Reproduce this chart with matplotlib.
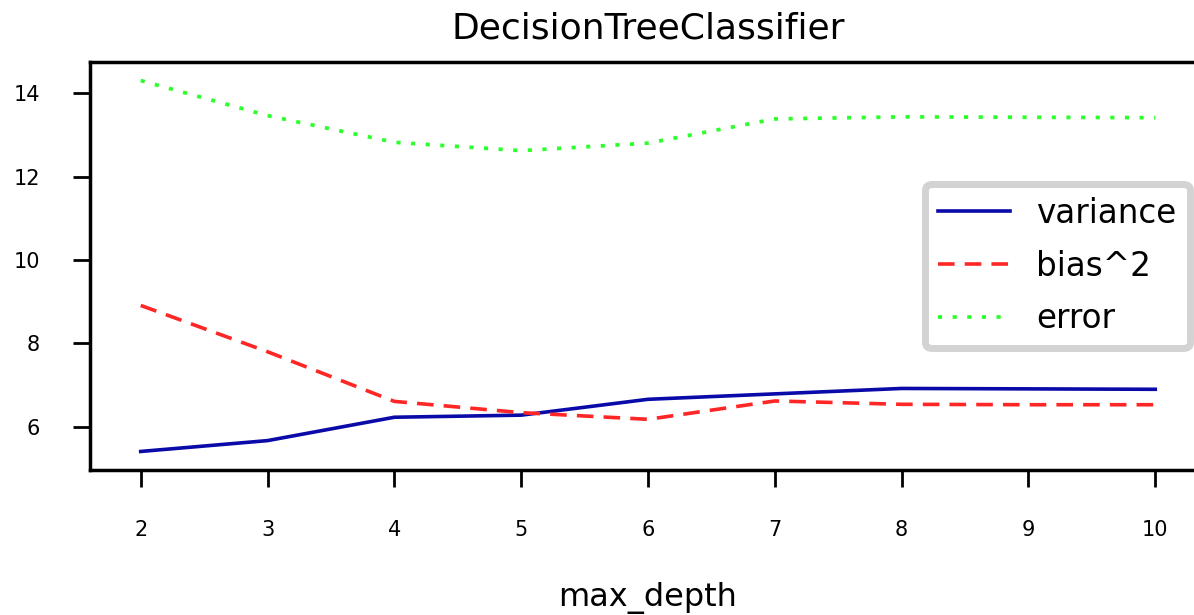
import numpy as np
import matplotlib
matplotlib.use("Agg")
import matplotlib.pyplot as plt

depth = [2, 3, 4, 5, 6, 7, 8, 9, 10]
variance = [5.41, 5.67, 6.23, 6.28, 6.66, 6.79, 6.92, 6.91, 6.90]
bias2 = [8.91, 7.80, 6.61, 6.34, 6.18, 6.62, 6.54, 6.53, 6.53]
error = [14.30, 13.46, 12.82, 12.62, 12.80, 13.38, 13.43, 13.42, 13.41]

fig = plt.figure(figsize=(11.94, 6.15), dpi=100)
ax = fig.add_axes([90/1194, 145/615, 1116/1194, 408/615])

ax.plot(depth, variance, color="#0a0aa8", lw=2.6, label="variance")
ax.plot(depth, bias2, color="#ff2626", lw=2.6, ls=(0, (4.6, 2.8)), label="bias^2")
ax.plot(depth, error, color="#2cff2c", lw=2.7, ls=(0, (1.1, 2.8)), label="error")

ax.set_title("DecisionTreeClassifier", fontsize=26, pad=17)
ax.set_xlabel("max_depth", fontsize=23, labelpad=30)
ax.set_xticks(depth)
ax.set_yticks([6, 8, 10, 12, 14])
ax.tick_params(labelsize=15, length=12, width=2, pad=24, colors="black")
for s in ax.spines.values():
    s.set_linewidth(2.5)

leg = ax.legend(loc="center right", fontsize=23.5, fancybox=True, framealpha=1,
                labelspacing=0.6, handlelength=2.2)
leg.get_frame().set_edgecolor("#d3d3d3")
leg.get_frame().set_linewidth(5)

fig.savefig("out.png", dpi=100)
